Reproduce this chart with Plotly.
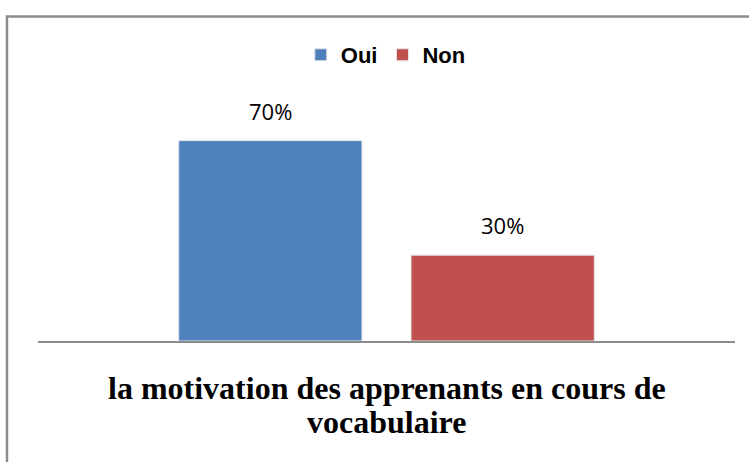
import plotly.graph_objects as go

series = ["Oui", "Non"]
values = [70, 30]
colors = ["#4F81BD", "#C0504D"]
title_lines = ["la motivation des apprenants en cours de", "vocabulaire"]

fig = go.Figure()

for name, val, col in zip(series, values, colors):
    fig.add_trace(go.Bar(
        x=[name],
        y=[val],
        name=name,
        marker=dict(color=col, line=dict(color="#e6e6e6", width=1)),
    ))
    fig.add_annotation(
        x=name, y=val, text=f"{val}%",
        showarrow=False, yanchor="bottom", yshift=13,
        font=dict(family="Open Sans", size=22, color="#000000"),
    )

# chart title sits under the axis, two lines set close together
for line, ypos in zip(title_lines, [-0.205, -0.352]):
    fig.add_annotation(
        text=line, xref="paper", yref="paper", x=0.5, y=ypos,
        xanchor="center", yanchor="middle", showarrow=False,
        font=dict(family="Liberation Serif", size=32, color="#000000", weight="bold"),
    )

# outer chart frame
fig.add_shape(
    type="rect", xref="paper", yref="paper",
    x0=-0.0445, x1=1.03, y0=-0.6, y1=1.417,
    line=dict(color="#8c8c8c", width=2.5), layer="below",
)

fig.update_layout(
    width=749,
    height=462,
    margin=dict(l=38, r=14, t=112, b=121),
    paper_bgcolor="white",
    plot_bgcolor="white",
    barmode="overlay",
    bargap=0.211,
    showlegend=True,
    legend=dict(
        orientation="h", x=0.499, xanchor="center", y=1.249, yanchor="middle",
        font=dict(family="Liberation Sans", size=22, color="#000000", weight="bold"),
        itemwidth=30, traceorder="normal",
    ),
    xaxis=dict(
        type="category", range=[-1, 2], showticklabels=False, ticks="",
        showgrid=False, zeroline=False, showline=True, linecolor="#8c8c8c", linewidth=1.5,
        fixedrange=True,
    ),
    yaxis=dict(
        range=[0, 80], visible=False, showgrid=False, zeroline=False, fixedrange=True,
    ),
)

fig.write_html(
    "out.html",
    config={"displayModeBar": False},
    post_script="document.body.style.margin='0';",
)
